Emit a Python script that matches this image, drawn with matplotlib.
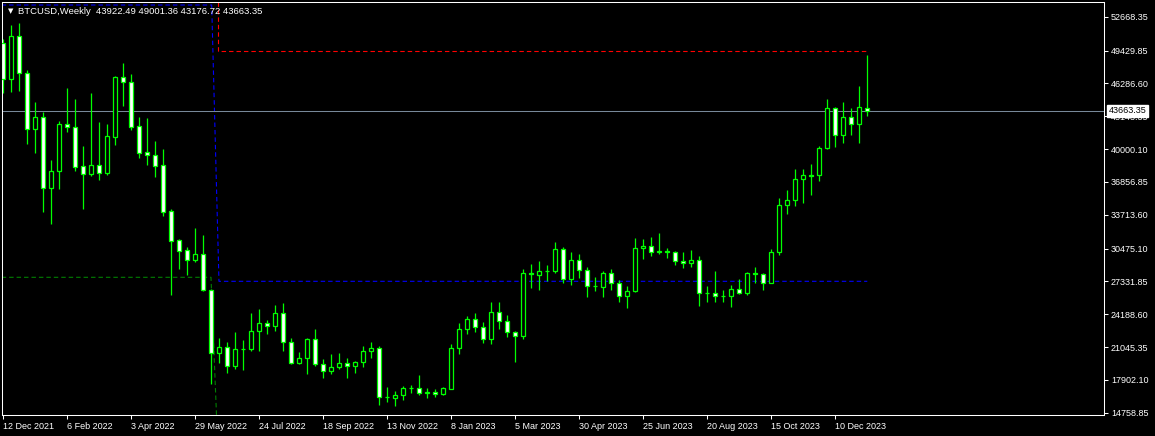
import matplotlib
matplotlib.use('Agg')
import matplotlib.pyplot as plt
import matplotlib.transforms as mtransforms

plt.rcParams['font.family'] = ['Liberation Sans Narrow', 'Liberation Sans', 'DejaVu Sans']

# weekly BTCUSD candles, 12 Dec 2021 .. 7 Jan 2024
opens = [50122, 46675, 50821, 47250, 41888, 43037, 36241, 37897, 42396, 42077,
         38376, 37641, 38471, 37737, 41184, 46867, 46415, 42205, 39716, 39429,
         38471, 34068, 31292, 30334, 29409, 29951, 26505, 20505, 21017, 19261,
         20825, 20825, 22548, 23314, 23091, 24271, 21496, 19548, 19963, 21782,
         19389, 18782, 19101, 19484, 19261, 19612, 20633, 20952, 16293, 16198,
         16421, 17123, 17123, 16676, 16740, 16550, 17060, 20920, 22740, 23697,
         22931, 21846, 24399, 23569, 22516, 22133, 28101, 27972, 28292, 28355,
         30398, 27589, 29345, 28451, 26919, 26823, 28101, 27142, 25963, 26409,
         30494, 30716, 30175, 30270, 30111, 29313, 29121, 29345, 26250, 26250,
         25963, 25930, 26601, 26250, 28132, 28035, 27205, 30143, 34611, 35090,
         37099, 37481, 37481, 40067, 43896, 41374, 43035, 42364, 43922.49]
highs = [50500, 51872, 52093, 47566, 44474, 43516, 38950, 42683, 45871, 44789,
         40290, 45335, 42588, 42396, 46990, 48206, 47182, 43038, 43006, 40769,
         40003, 34259, 31350, 30653, 32440, 31770, 26600, 21879, 21496, 22484,
         21718, 24303, 24686, 23601, 25069, 25260, 21879, 20569, 21879, 22771,
         19867, 20378, 20474, 19995, 19708, 21144, 21528, 21112, 17219, 16836,
         17314, 17410, 18368, 17123, 16995, 17219, 21336, 23314, 24016, 24303,
         23441, 25356, 25356, 24112, 22612, 28515, 28994, 29281, 28898, 31100,
         30589, 30143, 29951, 28706, 27749, 28324, 28515, 27462, 26887, 31482,
         31387, 31578, 31961, 30526, 30270, 30143, 30334, 29760, 26887, 28323,
         26505, 26983, 27557, 28260, 28706, 28100, 30430, 35313, 36080, 38056,
         38056, 38536, 40258, 44757, 44000, 44502, 43896, 46033, 49001.36]
lows = [45392, 45488, 45583, 40481, 39649, 34004, 32823, 36174, 41662, 37929,
        34259, 37418, 37035, 37514, 40386, 44119, 41822, 39173, 38471, 37354,
        33589, 26026, 28516, 27941, 29186, 26450, 17506, 19548, 18591, 18942,
        18846, 20697, 20697, 22324, 22611, 20697, 19453, 19421, 18495, 19261,
        18113, 18495, 18942, 18113, 18560, 19165, 19995, 15527, 15782, 15432,
        15974, 16676, 16485, 16198, 16293, 16421, 16990, 20378, 22292, 22484,
        21463, 21336, 22803, 22005, 19612, 21846, 26727, 26505, 27366, 28164,
        27206, 27015, 27685, 25835, 26409, 25835, 26505, 25356, 24781, 26314,
        29505, 29792, 29983, 29600, 28930, 28643, 28738, 25005, 25356, 25356,
        25388, 24909, 26122, 26026, 27175, 26505, 27142, 29856, 33824, 34579,
        34866, 35631, 36950, 40000, 40226, 40609, 41374, 40609, 43176.72]
closes = [46675, 50821, 47250, 41888, 43037, 36241, 37897, 42396, 42077, 38312,
          37641, 38471, 37737, 41248, 46867, 46388, 42141, 39652, 39397, 38407,
          34004, 31228, 30270, 29409, 29951, 26505, 20505, 21017, 19261, 20825,
          20840, 22548, 23314, 23091, 24271, 21496, 19548, 19963, 21782, 19389,
          18782, 19101, 19484, 19261, 19612, 20633, 20952, 16293, 16280, 16421,
          17123, 17130, 16676, 16700, 16550, 17123, 20920, 22740, 23697, 22931,
          21846, 24399, 23569, 22516, 22133, 28101, 28000, 28292, 28310, 30398,
          27589, 29345, 28451, 26919, 26870, 28101, 27142, 25963, 26409, 30494,
          30716, 30175, 30270, 30111, 29313, 29121, 29345, 26250, 26230, 25963,
          25930, 26601, 26250, 28132, 28035, 27205, 30143, 34611, 35090, 37099,
          37481, 37420, 40067, 43896, 41374, 43035, 42364, 43991, 43663.35]

date_labels = ['12 Dec 2021', '6 Feb 2022', '3 Apr 2022', '29 May 2022', '24 Jul 2022',
               '18 Sep 2022', '13 Nov 2022', '8 Jan 2023', '5 Mar 2023', '30 Apr 2023',
               '25 Jun 2023', '20 Aug 2023', '15 Oct 2023', '10 Dec 2023']
price_ticks = [14758.85, 17902.10, 21045.35, 24188.60, 27331.85, 30475.10, 33713.60,
               36856.85, 40000.10, 43143.35, 46286.60, 49429.85, 52668.35]

last_price = 43663.35
title = 'BTCUSD,Weekly  43922.49 49001.36 43176.72 43663.35'

# drawn objects (candle index, price)
blue_x = [-0.2, 26.05, 26.96, 108]
blue_y = [53788, 53788, 27338, 27338]
red_x = [26.875, 26.875, 108]
red_y = [54075, 49385, 49385]
green_x = [-0.2, 25.96, 26.65]
green_y = [27720, 27720, 14539]

GREEN = '#00ff00'
W, H = 1155, 436

fig = plt.figure(figsize=(W / 100, H / 100), dpi=100, facecolor='black')
ax = fig.add_axes([2 / W, 21 / H, 1102 / W, 413 / H], facecolor='black')

x = list(range(len(opens)))
heights = [c - o for o, c in zip(opens, closes)]
faces = ['black' if c >= o else 'white' for o, c in zip(opens, closes)]

ax.vlines(x, lows, highs, color=GREEN, lw=0.9, zorder=2)
ax.bar(x, heights, bottom=opens, width=0.5, color=faces, edgecolor=GREEN,
       linewidth=0.9, zorder=3)

dash = (0, (4.0, 2.7))
ax.plot(blue_x, blue_y, color='#0000ff', lw=0.8, ls=dash, zorder=1)
ax.plot(red_x, red_y, color='#ff0000', lw=0.8, ls=dash, zorder=1)
ax.plot(green_x, green_y, color='#008000', lw=0.8, ls=dash, zorder=1)

ax.axhline(last_price, color='#778899', lw=0.75, zorder=1)

ax.set_xlim(-0.1625, 137.59)
ax.set_ylim(14539, 54075)

ax.yaxis.tick_right()
ax.set_yticks(price_ticks, [f'{v:.2f}' for v in price_ticks])
ax.set_xticks(range(0, 8 * len(date_labels), 8), date_labels)
for lbl in ax.get_xticklabels():
    lbl.set_horizontalalignment('left')
ax.tick_params(axis='both', colors='white', direction='out', length=3,
               width=0.75, labelsize=6.5, pad=2)
for s in ax.spines.values():
    s.set_color('white')
    s.set_linewidth(0.75)

trans = mtransforms.blended_transform_factory(ax.transAxes, ax.transData)
ax.text(1.0 + 4.5 / 1102, last_price, f'{last_price:.2f}', transform=trans,
        ha='left', va='center', fontsize=6.5, color='black', clip_on=False,
        bbox=dict(facecolor='white', edgecolor='white', pad=1.0), zorder=5)

fig.text(8 / W, 1 - 11 / H, '\u25bc', color='white', fontsize=5,
         va='center', ha='left', family='DejaVu Sans')
fig.text(18 / W, 1 - 11 / H, title, color='white', fontsize=6.8,
         va='center', ha='left')

fig.savefig('out.png', dpi=100, facecolor='black')
